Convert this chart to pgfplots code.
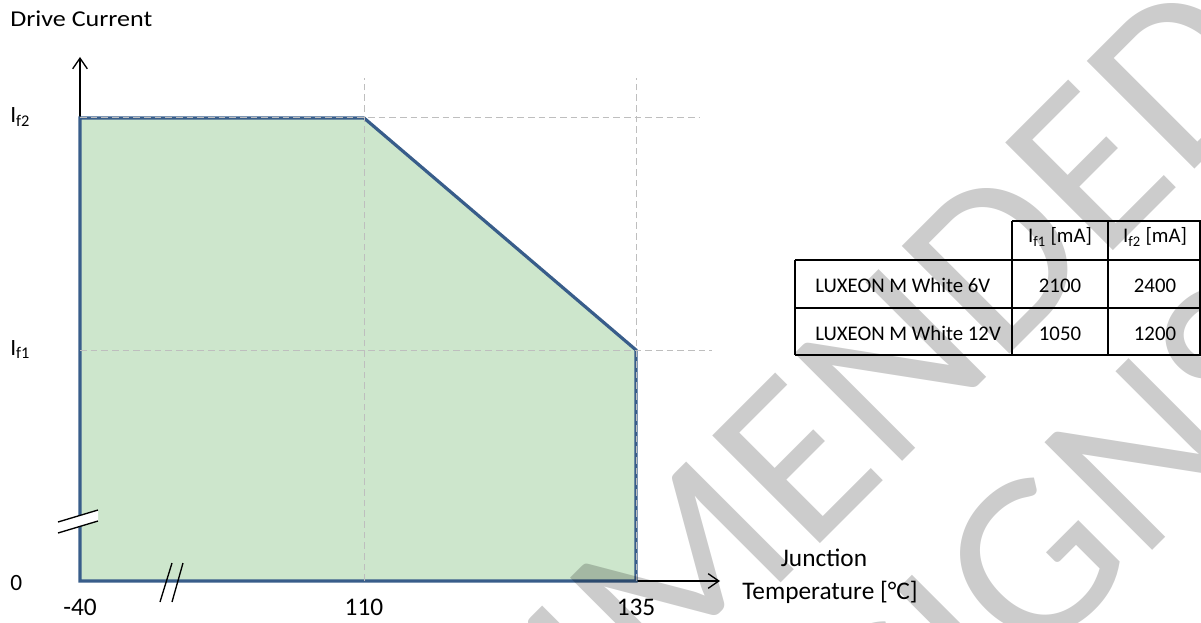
\documentclass[border=0pt]{standalone}
\usepackage{fontspec}
\setmainfont{Carlito}
\usepackage{pgfplots}
\pgfplotsset{compat=1.18}
\usetikzlibrary{arrows.meta}
\definecolor{areafill}{HTML}{CDE6CC}
\definecolor{edgeblue}{HTML}{385D8A}
\definecolor{gridgray}{HTML}{BEBEBE}

\begin{document}
\begin{tikzpicture}[x=0.75pt,y=0.75pt,font=\fontsize{15.6}{18}\selectfont]
% x data: -40 -> 0, 110 -> 284, 135 -> 556 (broken axis)
% y data: 0 -> 0, If1 -> 231, If2 -> 463
\begin{axis}[
    at={(80,41)}, anchor=south west,
    scale only axis, width=480pt, height=393pt,
    xmin=0, xmax=640, ymin=0, ymax=524,
    axis lines=left,
    axis line style={black, line width=1pt, -{Straight Barb[length=8pt,width=11pt]}},
    clip=false,
    major tick length=0pt,
    xtick={0,284,556}, xticklabels={-40,110,135},
    ytick={0,231,463}, yticklabels={\raisebox{-3pt}{0},I\textsubscript{f1},I\textsubscript{f2}},
    xticklabel style={anchor=base, inner sep=0pt, yshift=-25.5pt, font=\fontsize{19}{22}\selectfont},
    yticklabel style={anchor=base west, inner sep=0pt, xshift=-52.5pt, yshift=-3.75pt, font=\fontsize{17.5}{20}\selectfont},
]
% safe operating area
\addplot[draw=edgeblue, line width=2.4pt, fill=areafill, line join=miter]
    coordinates {(0,0) (0,463) (284,463) (556,231) (556,0)} -- cycle;

% guide lines
\addplot[gridgray, line width=0.75pt, dash pattern=on 5pt off 3pt] coordinates {(284,0) (284,503)};
\addplot[gridgray, line width=0.75pt, dash pattern=on 5pt off 3pt] coordinates {(556,0) (556,503)};
\addplot[gridgray, line width=0.75pt, dash pattern=on 5pt off 3pt] coordinates {(0,463) (620,463)};
\addplot[gridgray, line width=0.75pt, dash pattern=on 5pt off 3pt] coordinates {(0,231) (632,231)};

% axis breaks
\fill[white] (axis cs:-22,59) -- (axis cs:18,71) -- (axis cs:18,60) -- (axis cs:-22,48) -- cycle;
\draw[black, line width=1pt] (axis cs:-22,59) -- (axis cs:18,71);
\draw[black, line width=1pt] (axis cs:-22,48) -- (axis cs:18,60);
\draw[black, line width=1pt] (axis cs:80,-21) -- (axis cs:92,18);
\draw[black, line width=1pt] (axis cs:92,-21) -- (axis cs:103,18);
\end{axis}

% axis titles
\node[anchor=base west, inner sep=0pt, font=\fontsize{17}{20}\selectfont] at (10,595) {\scalebox{1.15}[1]{Drive Current}};
\node[anchor=base, inner sep=0pt, font=\fontsize{19}{22}\selectfont] at (824,56) {Junction};
\node[anchor=base, inner sep=0pt, font=\fontsize{19}{22}\selectfont] at (830,23) {Temperature [°C]};

% table
\draw[black, line width=1.1pt] (1012,401) -- (1201,401);
\draw[black, line width=1.1pt] (795,362) -- (1201,362);
\draw[black, line width=1.1pt] (795,314) -- (1201,314);
\draw[black, line width=1.1pt] (795,267) -- (1201,267);
\draw[black, line width=1.1pt] (795,362) -- (795,267);
\draw[black, line width=1.1pt] (1012,401) -- (1012,267);
\draw[black, line width=1.1pt] (1108,401) -- (1108,267);
\draw[black, line width=1.1pt] (1200,401) -- (1200,267);
\node[anchor=base, inner sep=0pt] at (1060,379) {I\textsubscript{f1} [mA]};
\node[anchor=base, inner sep=0pt] at (1155,379) {I\textsubscript{f2} [mA]};
\node[anchor=base west, inner sep=0pt] at (815,330) {LUXEON M White 6V};
\node[anchor=base west, inner sep=0pt] at (815,282) {LUXEON M White 12V};
\node[anchor=base, inner sep=0pt] at (1060,330) {2100};
\node[anchor=base, inner sep=0pt] at (1155,330) {2400};
\node[anchor=base, inner sep=0pt] at (1060,282) {1050};
\node[anchor=base, inner sep=0pt] at (1155,282) {1200};

% watermark
\tikzset{wm/.style={rotate=45, inner sep=0pt, text=black, text opacity=0.2, font=\fontsize{178}{210}\selectfont}}
\node[wm, anchor=base east] at (808,66) {NOT RECOMM};
\node[wm, anchor=base west] at (808,66) {ENDED};
\node[wm, anchor=base east] at (1140,59) {FOR NEW DESIG};
\node[wm, anchor=base west] at (1140,59) {NS};

\pgfresetboundingbox
\useasboundingbox (0,0) rectangle (1201,622);
\end{tikzpicture}
\end{document}
